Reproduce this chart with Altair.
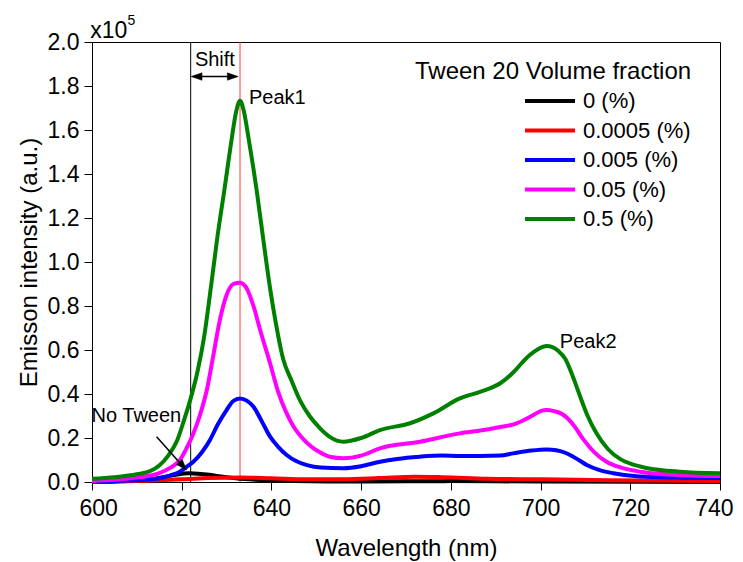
import altair as alt
import pandas as pd

FONT = "Liberation Sans"

series_labels = ["0 (%)", "0.0005 (%)", "0.005 (%)", "0.05 (%)", "0.5 (%)"]
series_colors = ["#000000", "#ff0000", "#0000ff", "#ff00ff", "#008000"]

# 0 % (No Tween)
wl_0 = [600, 608, 614, 618, 621.5, 625, 630, 635, 645, 660, 680, 700, 740]
em_0 = [0.0, 0.005, 0.015, 0.03, 0.04, 0.035, 0.022, 0.012, 0.005, 0.002, 0.004, 0.002, 0.0]

# 0.0005 %
wl_1 = [600, 610, 620, 626, 633, 640, 648, 656, 664, 672, 678, 688, 700, 715, 740]
em_1 = [0.002, 0.005, 0.012, 0.018, 0.021, 0.017, 0.012, 0.013, 0.018, 0.024, 0.022, 0.015, 0.012, 0.008, 0.005]

# 0.005 %
wl_2 = [600, 610, 615.2, 617.5, 619.6, 621, 622.6, 624.5, 626.3, 628, 630, 631.5, 633, 634.5, 636,
        638, 639.7, 641.5, 643.4, 645.5, 647.9, 651, 656, 660, 664.2, 668, 673.1, 678, 682, 686.5,
        691, 693.9, 698, 701.4, 703.5, 705.5, 707, 708.5, 710.3, 713, 716.2, 722, 730, 740]
em_2 = [0.003, 0.008, 0.017, 0.03, 0.047, 0.068, 0.092, 0.135, 0.191, 0.26, 0.327, 0.368, 0.38,
        0.37, 0.342, 0.27, 0.206, 0.16, 0.123, 0.095, 0.077, 0.066, 0.063, 0.072, 0.092, 0.105,
        0.115, 0.12, 0.118, 0.118, 0.12, 0.13, 0.143, 0.148, 0.144, 0.133, 0.118, 0.1, 0.077,
        0.055, 0.04, 0.025, 0.02, 0.018]

# 0.05 %
wl_3 = [600, 605, 610, 615, 617.5, 619.6, 621, 622.6, 624, 625.6, 627, 628.5, 630, 631.5, 633,
        634.5, 636, 637.5, 639.7, 641.5, 643.4, 645, 647.1, 650.8, 653, 656, 660, 664.2, 673.1,
        682, 687, 691, 694, 698, 700, 701.4, 703, 704.5, 706, 707.5, 709.5, 712, 714.7, 718,
        722.1, 731, 740]
em_3 = [0.005, 0.01, 0.02, 0.04, 0.065, 0.1, 0.15, 0.22, 0.3, 0.418, 0.57, 0.736, 0.85, 0.9,
        0.906, 0.88, 0.8, 0.69, 0.54, 0.41, 0.312, 0.25, 0.195, 0.135, 0.115, 0.108, 0.12, 0.153,
        0.183, 0.221, 0.235, 0.25, 0.262, 0.3, 0.322, 0.327, 0.322, 0.312, 0.29, 0.255, 0.195,
        0.135, 0.092, 0.065, 0.047, 0.032, 0.027]

# 0.5 %
wl_4 = [600, 605, 610, 613, 615, 617, 619, 620.5, 622, 623.5, 625, 626.6, 628, 629.6, 631, 632.2,
        633, 633.8, 635, 636.7, 638.2, 639.7, 641, 642.6, 644.5, 646.4, 648.5, 650.8, 653, 656,
        660, 664.2, 670.9, 676.1, 682, 686.5, 691, 694, 696, 697.6, 699.5, 701.4, 702.5, 704,
        705.5, 707, 708.8, 710.5, 712.5, 715, 717.7, 720.5, 723.6, 731, 740]
em_4 = [0.015, 0.022, 0.035, 0.05, 0.075, 0.12, 0.19, 0.28, 0.38, 0.5, 0.66, 0.9, 1.12, 1.34,
        1.54, 1.69, 1.733, 1.69, 1.55, 1.327, 1.1, 0.88, 0.72, 0.56, 0.46, 0.37, 0.3, 0.245, 0.205,
        0.183, 0.2, 0.236, 0.267, 0.312, 0.38, 0.41, 0.449, 0.5, 0.545, 0.577, 0.605, 0.618,
        0.614, 0.595, 0.56, 0.49, 0.39, 0.3, 0.22, 0.15, 0.105, 0.08, 0.064, 0.047, 0.04]

x_ticks = [600, 620, 640, 660, 680, 700, 720, 740]
y_ticks = [0.0, 0.2, 0.4, 0.6, 0.8, 1.0, 1.2, 1.4, 1.6, 1.8, 2.0]

rows = []
for k, (w, e) in enumerate([(wl_0, em_0), (wl_1, em_1), (wl_2, em_2), (wl_3, em_3), (wl_4, em_4)]):
    for a, b in zip(w, e):
        rows.append({"wl": a, "em": b, "series": series_labels[k], "k": k})
df = pd.DataFrame(rows)

xs = alt.Scale(domain=[600, 740], nice=False, zero=False)
ys = alt.Scale(domain=[0, 2.0], nice=False, zero=False)

lines = alt.Chart(df).mark_line(strokeWidth=4, interpolate="monotone").encode(
    x=alt.X("wl:Q", scale=xs, axis=alt.Axis(
        values=x_ticks, title="Wavelength (nm)", grid=False, tickSize=8,
        labelFontSize=23, titleFontSize=24, labelPadding=7, titlePadding=16,
        labelFont=FONT, titleFont=FONT, titleFontWeight="normal",
        domainColor="black", tickColor="black", labelColor="black", titleColor="black",
        labelFlush=True, labelFlushOffset=13)),
    y=alt.Y("em:Q", scale=ys, axis=alt.Axis(
        values=y_ticks, format=".1f", title="Emisson intensity (a.u.)", grid=False, tickSize=8,
        labelFontSize=23, titleFontSize=24, labelPadding=5, titlePadding=6,
        labelFont=FONT, titleFont=FONT, titleFontWeight="normal",
        domainColor="black", tickColor="black", labelColor="black", titleColor="black",
        labelFlush=False)),
    color=alt.Color("series:N", sort=series_labels,
                    scale=alt.Scale(domain=series_labels, range=series_colors),
                    legend=alt.Legend(
                        title=None, orient="none", legendX=446, legendY=47,
                        symbolType="M-2.5,0L2.5,0", symbolSize=400, symbolStrokeWidth=4,
                        labelFontSize=22, labelFont=FONT, labelColor="black",
                        labelOffset=21, rowPadding=6.5, padding=0)),
    order=alt.Order("wl:Q"),
)

# reference vertical lines
vline_black = alt.Chart().mark_rule(color="black", strokeWidth=1).encode(x=alt.datum(622))
vline_red = alt.Chart().mark_rule(color="#ff3b3b", strokeWidth=1).encode(x=alt.datum(633))

HEAD_R = "M0,0L-1.3,-0.45L-1.3,0.45Z"
HEAD_L = "M0,0L1.3,-0.45L1.3,0.45Z"

# shift arrow
shift_line = alt.Chart().mark_rule(color="black", strokeWidth=1.5).encode(
    x=alt.datum(622.5), x2=alt.datum(632.0), y=alt.datum(1.843))
head_r = alt.Chart().mark_point(shape=HEAD_R, filled=True, fill="black", stroke="black",
                                strokeWidth=0.5, opacity=1, size=280).encode(
    x=alt.datum(632.6), y=alt.datum(1.843))
head_l = alt.Chart().mark_point(shape=HEAD_L, filled=True, fill="black", stroke="black",
                                strokeWidth=0.5, opacity=1, size=280).encode(
    x=alt.datum(622.1), y=alt.datum(1.843))

# No Tween arrow
nt_line = alt.Chart().mark_rule(color="black", strokeWidth=1.5).encode(
    x=alt.datum(614.4), x2=alt.datum(620.3), y=alt.datum(0.206), y2=alt.datum(0.07))
nt_head = alt.Chart().mark_point(shape=HEAD_R, filled=True, fill="black", stroke="black",
                                 strokeWidth=0.5, opacity=1, size=280, angle=48).encode(
    x=alt.datum(621.1), y=alt.datum(0.0545))


def label(text, x, y, size, align="left", baseline="alphabetic"):
    return alt.Chart().mark_text(text=text, align=align, baseline=baseline, fontSize=size,
                                 font=FONT, color="black").encode(x=alt.datum(x), y=alt.datum(y))


texts = [
    label("x10", 599.6, 2.018, 23),
    label("5", 607.9, 2.077, 14),
    label("Shift", 627.4, 1.891, 20, align="center"),
    label("Peak1", 635.0, 1.718, 20),
    label("Peak2", 704.3, 0.608, 20),
    label("No Tween", 599.9, 0.271, 20),
    label("Tween 20 Volume fraction", 672.0, 1.830, 24),
]

chart = alt.layer(
    vline_black, vline_red, lines, shift_line, head_r, head_l, nt_line, nt_head, *texts
).properties(
    width=628, height=440,
    autosize=alt.AutoSizeParams(type="none"),
    padding={"left": 84, "top": 34, "right": 15, "bottom": 80},
).configure_view(stroke="black", strokeWidth=1)

chart.save("out.html", embed_options={"renderer": "svg", "actions": False})
